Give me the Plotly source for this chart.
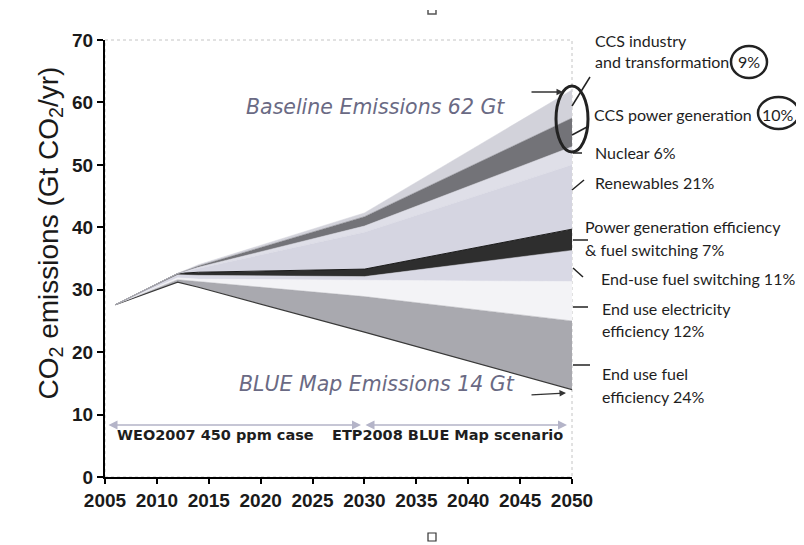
import plotly.graph_objects as go

# years where the wedge boundaries change slope
years = [2006, 2012, 2014, 2030, 2050]

# upper edge of each wedge (Gt CO2/yr), bottom to top
blue_map = [27.6, 31.2, 30.4, 23.2, 14.0]
fuel_eff_top = [27.6, 31.6, 31.3, 28.9, 25.0]
elec_eff_top = [27.6, 31.9, 31.7, 31.5, 31.3]
fuel_sw_top = [27.6, 32.4, 32.3, 32.1, 36.3]
power_eff_top = [27.6, 32.6, 32.8, 33.3, 39.7]
renewables_top = [27.6, 32.6, 33.4, 39.2, 50.0]
nuclear_top = [27.6, 32.6, 33.6, 40.2, 52.9]
ccs_power_top = [27.6, 32.6, 33.8, 41.7, 57.5]
baseline = [27.6, 32.6, 34.0, 42.3, 62.0]

wedge_names = ["End use fuel efficiency", "End use electricity efficiency",
               "End-use fuel switching", "Power generation efficiency & fuel switching",
               "Renewables", "Nuclear", "CCS power generation",
               "CCS industry and transformation"]
wedge_tops = [fuel_eff_top, elec_eff_top, fuel_sw_top, power_eff_top,
              renewables_top, nuclear_top, ccs_power_top, baseline]
wedge_colors = ["#a9a9af", "#f3f3f6", "#d9d9e5", "#2e2e2e",
                "#d5d5e1", "#dfdfe8", "#737378", "#d2d2da"]

x_ticks = [2005, 2010, 2015, 2020, 2025, 2030, 2035, 2040, 2045, 2050]
y_ticks = [0, 10, 20, 30, 40, 50, 60, 70]

# plot box in window pixels, used to place the notes (page body has an 8px margin)
L, R, T, B = 105, 572, 40, 477
OFF = 8
W, H = 804 - OFF, 545 - OFF


def px(x):
    return (x - L) / (R - L)


def py(y):
    return (B - y) / (B - T)


fig = go.Figure()

fig.add_trace(go.Scatter(x=years, y=blue_map, mode="lines",
                         line=dict(color="#3a3a3a", width=1.2), hoverinfo="skip",
                         showlegend=False))
for name, top, col in zip(wedge_names, wedge_tops, wedge_colors):
    edge = "#1a1a1a" if "Power" in name else col
    fig.add_trace(go.Scatter(x=years, y=top, name=name, mode="lines",
                             fill="tonexty", fillcolor=col,
                             line=dict(color=edge, width=1 if "Power" in name else 0.5),
                             showlegend=False))

tick_font = dict(family="Liberation Sans", size=19, color="#1a1a1a", weight="bold")
fig.update_layout(
    width=W, height=H,
    margin=dict(l=L - OFF, r=W - (R - OFF), t=T - OFF, b=H - (B - OFF)),
    paper_bgcolor="white", plot_bgcolor="white",
    xaxis=dict(range=[2005, 2050], tickvals=x_ticks, showgrid=False, zeroline=False,
               showline=True, linecolor="black", linewidth=2,
               ticks="outside", ticklen=5, tickcolor="black", tickwidth=1.5,
               tickfont=tick_font),
    yaxis=dict(range=[0, 70], tickvals=y_ticks, showgrid=False, zeroline=False,
               showline=True, linecolor="black", linewidth=2,
               ticks="outside", ticklen=6, tickcolor="black", tickwidth=1.5,
               tickfont=tick_font),
)

shapes = [
    # light plot frame on top and right
    dict(type="rect", xref="paper", yref="paper", x0=0, x1=1, y0=0, y1=1,
         line=dict(color="#c4c4c4", width=1, dash="dot"), layer="below"),
    # oval round the CCS wedges
    dict(type="circle", xref="paper", yref="paper", x0=px(556), x1=px(588),
         y0=py(152), y1=py(86), line=dict(color="#222", width=3)),
    dict(type="circle", xref="paper", yref="paper", x0=px(731), x1=px(767),
         y0=py(78), y1=py(46), fillcolor="white", line=dict(color="#222", width=2.5)),
    dict(type="circle", xref="paper", yref="paper", x0=px(758), x1=px(799),
         y0=py(129), y1=py(97), fillcolor="white", line=dict(color="#222", width=2.5)),
    # little handles
    dict(type="rect", xref="paper", yref="paper", x0=px(428), x1=px(436),
         y0=py(541), y1=py(533), line=dict(color="#333", width=1.2)),
    dict(type="path", xref="paper", yref="paper",
         path=f"M {px(428)},{py(10)} L {px(428)},{py(14)} L {px(436)},{py(14)} L {px(436)},{py(10)}",
         line=dict(color="#555", width=1.5)),
]
leaders = [((590, 77), (572, 106)), ((587, 127), (572, 135)), ((573, 153), (582, 153)),
           ((584, 180), (572, 190)), ((573, 240), (588, 240)), ((573, 268), (583, 277)),
           ((573, 307), (588, 307)), ((573, 365), (590, 365))]
for (x0, y0), (x1, y1) in leaders:
    shapes.append(dict(type="line", xref="paper", yref="paper", x0=px(x0), y0=py(y0),
                       x1=px(x1), y1=py(y1), line=dict(color="#222", width=1.5)))
fig.update_layout(shapes=shapes)

lab_font = dict(family="Lato", size=16, color="#1e1e1e")
labels = [("CCS industry", 593, 40), ("and transformation", 593, 62),
          ("CCS power generation", 592, 114), ("Nuclear 6%", 593, 153),
          ("Renewables 21%", 593, 183), ("Power generation efficiency", 583, 227),
          ("& fuel switching 7%", 583, 249), ("End-use fuel switching 11%", 599, 278),
          ("End use electricity", 600, 308), ("efficiency 12%", 600, 330),
          ("End use fuel", 600, 373), ("efficiency 24%", 600, 396)]
ann = []
for txt, x, y in labels:
    ann.append(dict(text=txt, x=px(x), y=py(y), xref="paper", yref="paper",
                    xanchor="left", yanchor="middle", showarrow=False, font=lab_font))
for txt, x, y in [("9%", 749, 62), ("10%", 778, 114)]:
    ann.append(dict(text=txt, x=px(x), y=py(y), xref="paper", yref="paper",
                    xanchor="center", yanchor="middle", showarrow=False, font=lab_font))

ital = dict(family="DejaVu Sans", size=20.5, color="#6a6a84")
bold_font = dict(family="DejaVu Sans", size=14.5, color="#1e1e1e")
ann += [
    dict(text="<i>Baseline Emissions 62 Gt</i>", x=px(375), y=py(93), xref="paper",
         yref="paper", showarrow=False, font=ital),
    dict(text="<i>BLUE Map Emissions 14 Gt</i>", x=px(377), y=py(398), xref="paper",
         yref="paper", showarrow=False, font=ital),
    dict(text="", x=px(563), y=py(92), xref="paper", yref="paper", showarrow=True,
         ax=-33, ay=0, arrowhead=2, arrowsize=1, arrowwidth=1.3, arrowcolor="#333"),
    dict(text="", x=px(566), y=py(393), xref="paper", yref="paper", showarrow=True,
         ax=-36, ay=2, arrowhead=2, arrowsize=1, arrowwidth=1.3, arrowcolor="#333"),
    dict(text="", x=px(361), y=py(425), xref="paper", yref="paper", showarrow=True,
         ax=-254, ay=0, arrowhead=2, startarrowhead=2, arrowside="end+start",
         arrowsize=1.2, arrowwidth=1.5, arrowcolor="#b4b4c8"),
    dict(text="", x=px(567), y=py(425), xref="paper", yref="paper", showarrow=True,
         ax=-203, ay=0, arrowhead=2, startarrowhead=2, arrowside="end+start",
         arrowsize=1.2, arrowwidth=1.5, arrowcolor="#b4b4c8"),
    dict(text="<b>WEO2007 450 ppm case</b>", x=px(115), y=py(445), xref="paper",
         yref="paper", xanchor="left", showarrow=False, font=bold_font),
    dict(text="<b>ETP2008 BLUE Map scenario</b>", x=px(330), y=py(445), xref="paper",
         yref="paper", xanchor="left", showarrow=False, font=bold_font),
    dict(text="CO<sub>2</sub> emissions (Gt CO<sub>2</sub>/yr)", x=px(30), y=py(233),
         xref="paper", yref="paper", textangle=-90, showarrow=False,
         font=dict(family="Liberation Sans", size=28, color="#1a1a1a")),
]
fig.update_layout(annotations=ann)

fig.write_html("out.html")
